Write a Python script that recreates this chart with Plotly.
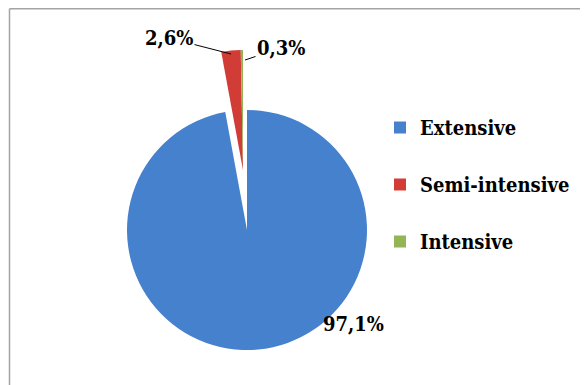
import plotly.graph_objects as go

# ---- data ----
categories = ["Extensive", "Semi-intensive", "Intensive"]
values = [97.1, 2.6, 0.3]
colors = ["#4681CD", "#D23C37", "#93B553"]

# page has an 8px body margin: figure sits at (8, 8)
OFF = 8
W, H = 580, 377
FONT = "DejaVu Serif Condensed, DejaVu Serif"
FS = 20
TRANSP = "rgba(0,0,0,0)"


def fmt(v):
    return f"{v:.1f}".replace(".", ",") + "%"


def px(x):
    return (x - OFF) / W


def py(y):
    return (H - (y - OFF)) / H


def dom(cx, cy, r):
    return dict(x=[px(cx - r), px(cx + r)], y=[py(cy + r), py(cy - r)])


fig = go.Figure()

fig.add_trace(go.Pie(
    labels=categories, values=values, sort=False, direction="clockwise", rotation=0,
    marker=dict(colors=[colors[0], TRANSP, TRANSP], line=dict(width=0)),
    textinfo="none", showlegend=False, domain=dom(247, 230, 120),
))
fig.add_trace(go.Pie(
    labels=categories, values=values, sort=False, direction="clockwise", rotation=0,
    marker=dict(colors=[TRANSP, colors[1], colors[2]], line=dict(width=0)),
    textinfo="none", showlegend=False, domain=dom(243, 170, 120),
))

for i, c in enumerate(categories):
    fig.add_trace(go.Scatter(
        x=[None], y=[None], mode="markers", name="<b>" + c + "</b>", legendgroup=c,
        marker=dict(symbol="square", size=12, color=colors[i], line=dict(width=0)),
        hoverinfo="skip",
    ))

lab_font = dict(family=FONT, size=FS, color="black")

annotations = [
    dict(x=px(353), y=py(338), xref="paper", yref="paper", text="<b>" + fmt(values[0]) + "</b>",
         showarrow=False, font=lab_font),
    dict(x=px(231), y=py(54), xref="paper", yref="paper", text="<b>" + fmt(values[1]) + "</b>",
         showarrow=True, arrowhead=0, arrowwidth=1, arrowcolor="black",
         ax=-62, ay=-16, standoff=0, font=lab_font),
    dict(x=px(245), y=py(60), xref="paper", yref="paper", text="<b>" + fmt(values[2]) + "</b>",
         showarrow=True, arrowhead=0, arrowwidth=1, arrowcolor="black",
         ax=36, ay=-12, standoff=0, font=lab_font),
]

shapes = [
    dict(type="line", xref="paper", yref="paper", x0=px(9.5), x1=1.0, y0=py(8.8), y1=py(8.8),
         line=dict(color="#A3A3A3", width=1.5)),
    dict(type="line", xref="paper", yref="paper", x0=px(9.5), x1=px(9.5), y0=0, y1=py(8.8),
         line=dict(color="#A3A3A3", width=1.5)),
]

fig.update_layout(
    width=W, height=H,
    margin=dict(l=0, r=0, t=0, b=0),
    paper_bgcolor="white", plot_bgcolor="white",
    xaxis=dict(visible=False), yaxis=dict(visible=False),
    showlegend=True,
    legend=dict(
        x=px(380), y=py(108), xanchor="left", yanchor="top",
        font=dict(family=FONT, size=FS, color="black"),
        tracegroupgap=28, itemwidth=30, bgcolor="rgba(0,0,0,0)", borderwidth=0,
    ),
    annotations=annotations,
    shapes=shapes,
)

fig.write_html("out.html")
